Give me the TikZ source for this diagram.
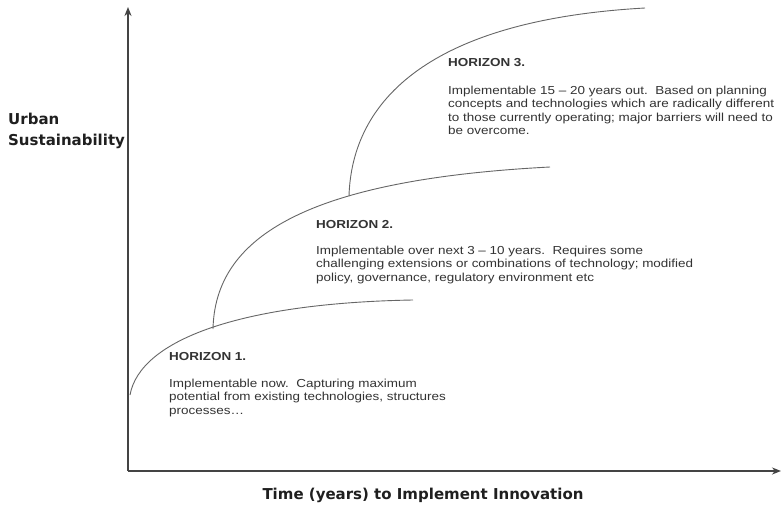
\documentclass[tikz,border=0pt]{standalone}
\usepackage{fontspec}
\setmainfont{Liberation Sans}
\newfontfamily\bodyfont[FakeStretch=1.16,Ligatures=TeX]{Liberation Sans}
\newfontfamily\titlefont[Ligatures=TeX]{DejaVu Sans}
\usetikzlibrary{arrows.meta}
\definecolor{ink}{HTML}{333333}
\definecolor{axisgray}{HTML}{444444}
\definecolor{curvegray}{HTML}{666666}
\tikzset{
  axisline/.style={draw=axisgray, line width=2pt, -{Stealth[length=9pt,width=7pt]}},
  horizon/.style={draw=curvegray, line width=0.9pt},
  headtext/.style={anchor=west, inner sep=0pt, text=ink, font=\bodyfont\bfseries\fontsize{11.6}{13.3}\selectfont},
  bodytext/.style={anchor=north west, inner sep=0pt, align=left, text=ink, font=\bodyfont\fontsize{11.6}{13.3}\selectfont},
  axislabel/.style={inner sep=0pt, text=black!88, font=\titlefont\bfseries\fontsize{15}{21}\selectfont}
}
\begin{document}
\begin{tikzpicture}[x=1pt, y=-1pt]
  \useasboundingbox (0,0) rectangle (782,508);
  \fill[white] (0,0) rectangle (782,508);

  % axes
  \coordinate (origin) at (128,471);
  \coordinate (ytop) at (128,7);
  \coordinate (xend) at (781,471);
  \draw[axisline] (origin) -- (ytop);
  \draw[axisline] (origin) -- (xend);

  % the three horizon curves
  \coordinate (h1start) at (130,395);
  \coordinate (j1) at (213,329);
  \coordinate (h1end) at (413,300);
  \coordinate (j2) at (349,196);
  \coordinate (h2end) at (550,167);
  \coordinate (h3end) at (645,8);
  \draw[horizon] (h1start) .. controls (140,340) and (240,303) .. (h1end);
  \draw[horizon] (j1) .. controls (215,240) and (300,180) .. (h2end);
  \draw[horizon] (j2) .. controls (352,100) and (430,20) .. (h3end);

  % horizon descriptions
  \node[headtext] (t1) at (169,357) {HORIZON 1.};
  \node[bodytext] (b1) at (169,379) {Implementable now.\ \ Capturing maximum\\potential from existing technologies, structures\\processes\dots};

  \node[headtext] (t2) at (316,225) {HORIZON 2.};
  \node[bodytext] (b2) at (316,246) {Implementable over next 3 -- 10 years.\ \ Requires some\\challenging extensions or combinations of technology; modified\\policy, governance, regulatory environment etc};

  \node[headtext] (t3) at (448,63) {HORIZON 3.};
  \node[bodytext] (b3) at (448,86) {Implementable 15 -- 20 years out.\ \ Based on planning\\concepts and technologies which are radically different\\to those currently operating; major barriers will need to\\be overcome.};

  % axis titles
  \node[axislabel, anchor=west, align=left] (ylab) at (8,131) {Urban\\Sustainability};
  \node[axislabel] (xlab) at (423,495) {Time (years) to Implement Innovation};
\end{tikzpicture}
\end{document}
